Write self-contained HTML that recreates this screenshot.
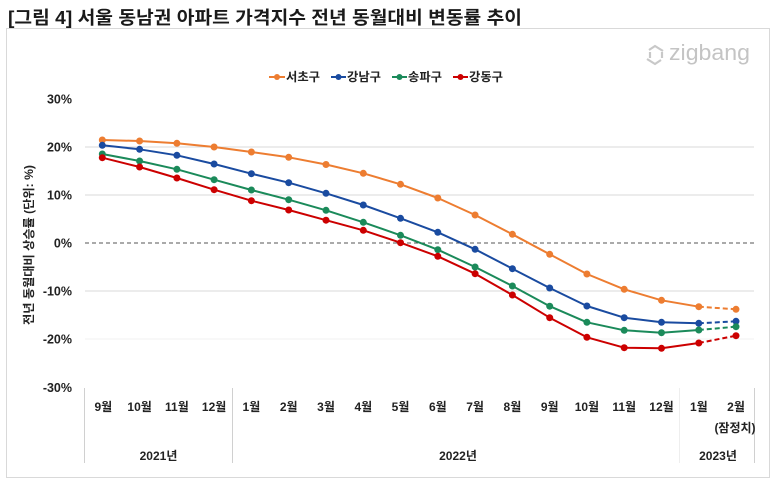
<!DOCTYPE html>
<html><head><meta charset="utf-8"><style>
html,body{margin:0;padding:0;background:#fff;}
svg{display:block;}
text{font-family:"Liberation Sans","Noto Sans CJK KR",sans-serif;}
.k{font-family:"Liberation Sans","Noto Sans CJK KR",sans-serif;font-weight:bold;fill:#222;}
</style></head><body>
<svg width="778" height="489" viewBox="0 0 778 489" xmlns="http://www.w3.org/2000/svg">
<rect x="0" y="0" width="778" height="489" fill="#fff"/>
<!-- title -->
<text x="8" y="24" font-size="18" font-weight="bold" fill="#1a1a1a" textLength="514" lengthAdjust="spacingAndGlyphs" style="font-family:'Liberation Sans','Noto Sans CJK KR',sans-serif">[그림 4] 서울 동남권 아파트 가격지수 전년 동월대비 변동률 추이</text>
<!-- box -->
<rect x="6.5" y="28.5" width="763" height="449" fill="none" stroke="#d9d9d9" stroke-width="1"/>
<!-- zigbang logo -->
<g fill="none" stroke="#c8c8c8" stroke-width="2.2">
<path d="M649 50 l6 -4 l8 5 M661 60 l-6 4 l-8 -5"/>
<path d="M650 52 l0 6 M662 52 l0 6"/>
</g>
<text x="669" y="60" font-size="22" fill="#c4c4c4" textLength="81" lengthAdjust="spacingAndGlyphs">zigbang</text>
<!-- legend -->
<g stroke-width="2">
<line x1="269" y1="77" x2="285" y2="77" stroke="#ED7D31"/><circle cx="277" cy="77" r="3" fill="#ED7D31"/>
<line x1="331" y1="77" x2="346" y2="77" stroke="#1A4BA0"/><circle cx="338.5" cy="77" r="3" fill="#1A4BA0"/>
<line x1="392" y1="77" x2="407" y2="77" stroke="#1B8A5A"/><circle cx="399.5" cy="77" r="3" fill="#1B8A5A"/>
<line x1="453" y1="77" x2="468" y2="77" stroke="#CC0000"/><circle cx="460.5" cy="77" r="3" fill="#CC0000"/>
</g>
<g class="k" font-size="12">
<text x="286" y="81" textLength="34" lengthAdjust="spacingAndGlyphs">서초구</text>
<text x="347" y="81" textLength="34" lengthAdjust="spacingAndGlyphs">강남구</text>
<text x="408" y="81" textLength="34" lengthAdjust="spacingAndGlyphs">송파구</text>
<text x="469" y="81" textLength="34" lengthAdjust="spacingAndGlyphs">강동구</text>
</g>
<!-- gridlines -->
<g stroke-width="1">
<line x1="85" y1="147" x2="754" y2="147" stroke="#d9d9d9"/>
<line x1="85" y1="195" x2="754" y2="195" stroke="#d9d9d9"/>
<line x1="85" y1="291" x2="754" y2="291" stroke="#d9d9d9"/>
<line x1="85" y1="339" x2="754" y2="339" stroke="#f0f0f0"/>
<line x1="85" y1="243" x2="754" y2="243" stroke="#555" stroke-dasharray="4,3"/>
</g>
<!-- y tick labels -->
<g class="k" font-size="12.5" text-anchor="end">
<text x="72" y="103.5">30%</text>
<text x="72" y="151.5">20%</text>
<text x="72" y="199.5">10%</text>
<text x="72" y="247.5">0%</text>
<text x="72" y="295.5">-10%</text>
<text x="72" y="343.5">-20%</text>
<text x="72" y="392">-30%</text>
</g>
<!-- y axis title -->
<text class="k" font-size="12" text-anchor="middle" transform="translate(33,245) rotate(-90)" textLength="160" lengthAdjust="spacingAndGlyphs">전년 동월대비 상승률 (단위: %)</text>
<!-- x axis separators -->
<g stroke-width="1">
<line x1="84.5" y1="388" x2="84.5" y2="463" stroke="#d0d0d0"/>
<line x1="232.5" y1="388" x2="232.5" y2="463" stroke="#d0d0d0"/>
<line x1="679.5" y1="388" x2="679.5" y2="463" stroke="#eeeeee"/>
<line x1="754.5" y1="388" x2="754.5" y2="463" stroke="#d0d0d0"/>
</g>
<!-- x labels -->
<g class="k" font-size="12" text-anchor="middle">
<text x="103.3" y="411">9월</text>
<text x="139.6" y="411">10월</text>
<text x="176.9" y="411">11월</text>
<text x="214.1" y="411">12월</text>
<text x="251.4" y="411">1월</text>
<text x="288.7" y="411">2월</text>
<text x="326" y="411">3월</text>
<text x="363.3" y="411">4월</text>
<text x="400.5" y="411">5월</text>
<text x="437.8" y="411">6월</text>
<text x="475.1" y="411">7월</text>
<text x="512.4" y="411">8월</text>
<text x="549.7" y="411">9월</text>
<text x="586.9" y="411">10월</text>
<text x="624.2" y="411">11월</text>
<text x="661.5" y="411">12월</text>
<text x="698.8" y="411">1월</text>
<text x="736" y="411">2월</text>
<text x="735" y="432">(잠정치)</text>
<text x="158.5" y="460">2021년</text>
<text x="458" y="460">2022년</text>
<text x="718" y="460">2023년</text>
</g>
<!-- series -->
<g fill="none" stroke-width="2" stroke-linejoin="round">
<polyline stroke="#ED7D31" points="102.3,140 139.6,141 176.9,143.3 214.1,147 251.4,152 288.7,157.3 326,164.5 363.3,173.3 400.5,184.3 437.8,198 475.1,215 512.4,234.3 549.7,254.3 586.9,274 624.2,289.3 661.5,300.3 698.8,306.7"/>
<line stroke="#ED7D31" x1="698.8" y1="306.7" x2="736" y2="309.3" stroke-dasharray="5,3"/>
<polyline stroke="#1A4BA0" points="102.3,145.3 139.6,149.3 176.9,155.3 214.1,164 251.4,173.7 288.7,182.7 326,193.3 363.3,205 400.5,218.3 437.8,232.3 475.1,249.3 512.4,268.7 549.7,288 586.9,306 624.2,317.7 661.5,322.3 698.8,323.3"/>
<line stroke="#1A4BA0" x1="698.8" y1="323.3" x2="736" y2="321.3" stroke-dasharray="5,3"/>
<polyline stroke="#1B8A5A" points="102.3,154 139.6,161 176.9,169.3 214.1,179.7 251.4,190 288.7,199.7 326,210.3 363.3,222.3 400.5,235.3 437.8,249.7 475.1,267 512.4,286 549.7,306.2 586.9,322.3 624.2,330.3 661.5,332.7 698.8,330"/>
<line stroke="#1B8A5A" x1="698.8" y1="330" x2="736" y2="326.7" stroke-dasharray="5,3"/>
<polyline stroke="#CC0000" points="102.3,157.7 139.6,167 176.9,178 214.1,189.7 251.4,200.7 288.7,210 326,220.2 363.3,230.3 400.5,242.7 437.8,256.3 475.1,273.7 512.4,295 549.7,317.7 586.9,337.3 624.2,347.7 661.5,348.3 698.8,343"/>
<line stroke="#CC0000" x1="698.8" y1="343" x2="736" y2="335.7" stroke-dasharray="5,3"/>
</g>
<g fill="#ED7D31">
<circle cx="102.3" cy="140" r="3.5"/><circle cx="139.6" cy="141" r="3.5"/><circle cx="176.9" cy="143.3" r="3.5"/><circle cx="214.1" cy="147" r="3.5"/><circle cx="251.4" cy="152" r="3.5"/><circle cx="288.7" cy="157.3" r="3.5"/><circle cx="326" cy="164.5" r="3.5"/><circle cx="363.3" cy="173.3" r="3.5"/><circle cx="400.5" cy="184.3" r="3.5"/><circle cx="437.8" cy="198" r="3.5"/><circle cx="475.1" cy="215" r="3.5"/><circle cx="512.4" cy="234.3" r="3.5"/><circle cx="549.7" cy="254.3" r="3.5"/><circle cx="586.9" cy="274" r="3.5"/><circle cx="624.2" cy="289.3" r="3.5"/><circle cx="661.5" cy="300.3" r="3.5"/><circle cx="698.8" cy="306.7" r="3.5"/><circle cx="736" cy="309.3" r="3.5"/>
</g>
<g fill="#1A4BA0">
<circle cx="102.3" cy="145.3" r="3.5"/><circle cx="139.6" cy="149.3" r="3.5"/><circle cx="176.9" cy="155.3" r="3.5"/><circle cx="214.1" cy="164" r="3.5"/><circle cx="251.4" cy="173.7" r="3.5"/><circle cx="288.7" cy="182.7" r="3.5"/><circle cx="326" cy="193.3" r="3.5"/><circle cx="363.3" cy="205" r="3.5"/><circle cx="400.5" cy="218.3" r="3.5"/><circle cx="437.8" cy="232.3" r="3.5"/><circle cx="475.1" cy="249.3" r="3.5"/><circle cx="512.4" cy="268.7" r="3.5"/><circle cx="549.7" cy="288" r="3.5"/><circle cx="586.9" cy="306" r="3.5"/><circle cx="624.2" cy="317.7" r="3.5"/><circle cx="661.5" cy="322.3" r="3.5"/><circle cx="698.8" cy="323.3" r="3.5"/><circle cx="736" cy="321.3" r="3.5"/>
</g>
<g fill="#1B8A5A">
<circle cx="102.3" cy="154" r="3.5"/><circle cx="139.6" cy="161" r="3.5"/><circle cx="176.9" cy="169.3" r="3.5"/><circle cx="214.1" cy="179.7" r="3.5"/><circle cx="251.4" cy="190" r="3.5"/><circle cx="288.7" cy="199.7" r="3.5"/><circle cx="326" cy="210.3" r="3.5"/><circle cx="363.3" cy="222.3" r="3.5"/><circle cx="400.5" cy="235.3" r="3.5"/><circle cx="437.8" cy="249.7" r="3.5"/><circle cx="475.1" cy="267" r="3.5"/><circle cx="512.4" cy="286" r="3.5"/><circle cx="549.7" cy="306.2" r="3.5"/><circle cx="586.9" cy="322.3" r="3.5"/><circle cx="624.2" cy="330.3" r="3.5"/><circle cx="661.5" cy="332.7" r="3.5"/><circle cx="698.8" cy="330" r="3.5"/><circle cx="736" cy="326.7" r="3.5"/>
</g>
<g fill="#CC0000">
<circle cx="102.3" cy="157.7" r="3.5"/><circle cx="139.6" cy="167" r="3.5"/><circle cx="176.9" cy="178" r="3.5"/><circle cx="214.1" cy="189.7" r="3.5"/><circle cx="251.4" cy="200.7" r="3.5"/><circle cx="288.7" cy="210" r="3.5"/><circle cx="326" cy="220.2" r="3.5"/><circle cx="363.3" cy="230.3" r="3.5"/><circle cx="400.5" cy="242.7" r="3.5"/><circle cx="437.8" cy="256.3" r="3.5"/><circle cx="475.1" cy="273.7" r="3.5"/><circle cx="512.4" cy="295" r="3.5"/><circle cx="549.7" cy="317.7" r="3.5"/><circle cx="586.9" cy="337.3" r="3.5"/><circle cx="624.2" cy="347.7" r="3.5"/><circle cx="661.5" cy="348.3" r="3.5"/><circle cx="698.8" cy="343" r="3.5"/><circle cx="736" cy="335.7" r="3.5"/>
</g>
</svg>
</body></html>
